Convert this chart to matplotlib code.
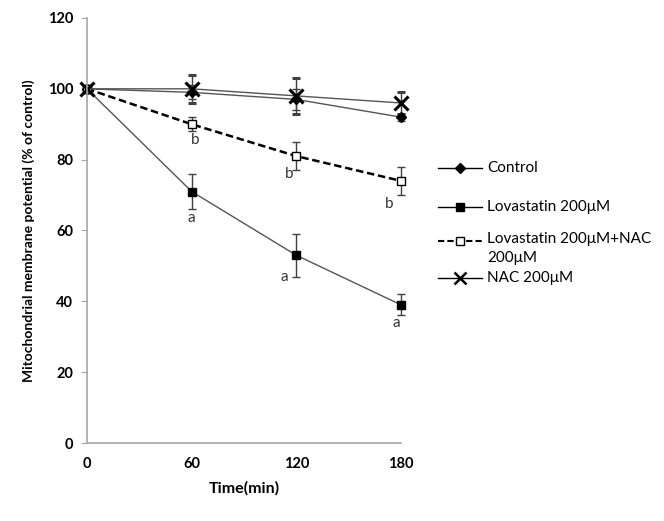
import matplotlib
matplotlib.use("Agg")
import matplotlib.pyplot as plt
from matplotlib.lines import Line2D

plt.rcParams['font.family'] = ['Lato', 'DejaVu Sans']

time = [0, 60, 120, 180]
control = [100, 99, 97, 92]
control_err = [0, 2, 3, 1]
lova = [100, 71, 53, 39]
lova_err = [0, 5, 6, 3]
lova_nac = [100, 90, 81, 74]
lova_nac_err = [0, 2, 4, 4]
nac = [100, 100, 98, 96]
nac_err = [0, 4, 5, 3]

lova_letters = ['a', 'a', 'a']
lova_letter_x = [60, 113, 177]
lova_letter_y = [63.5, 47, 34]
nac_letters = ['b', 'b', 'b']
nac_letter_x = [62, 116, 173]
nac_letter_y = [85.5, 76, 67.5]

legend_labels = ['Control', 'Lovastatin 200μM', 'Lovastatin 200μM+NAC\n200μM', 'NAC 200μM']

fig = plt.figure(figsize=(6.64, 5.21), dpi=100)
ax = fig.add_axes([0.131, 0.1497, 0.473, 0.8158])

lc = '#555555'
ek = dict(ecolor='#404040', elinewidth=1.0, capsize=3, capthick=1.0)
styles = [
    dict(color=lc, lw=1.0, marker='D', ms=5, mfc='black', mec='black'),
    dict(color=lc, lw=1.0, marker='s', ms=6, mfc='black', mec='black'),
    dict(color='black', lw=1.8, ls=(0, (3, 1.5)), marker='s', ms=6, mfc='white', mec='black', mew=1.0),
    dict(color=lc, lw=1.0, marker='x', ms=10, mec='black', mew=2.2),
]
series = [(control, control_err), (lova, lova_err), (lova_nac, lova_nac_err), (nac, nac_err)]
for (vals, errs), st in zip(series, styles):
    cont = ax.errorbar(time, vals, yerr=errs, **st, **ek)
    for art in cont.lines[0:1] + tuple(cont.lines[1]) + tuple(cont.lines[2]):
        art.set_clip_on(False)

for t, x, y in zip(lova_letters, lova_letter_x, lova_letter_y):
    ax.text(x, y, t, ha='center', va='center', fontsize=11, color='#333333')
for t, x, y in zip(nac_letters, nac_letter_x, nac_letter_y):
    ax.text(x, y, t, ha='center', va='center', fontsize=11, color='#333333')

ax.set_xlim(0, 180)
ax.set_ylim(0, 120)
ax.set_xticks([0, 60, 120, 180])
ax.set_yticks(range(0, 121, 20))
for s in ['top', 'right']:
    ax.spines[s].set_visible(False)
for s in ['left', 'bottom']:
    ax.spines[s].set_color('#a6a6a6')
    ax.spines[s].set_linewidth(1.2)
ax.tick_params(axis='y', length=4, color='#a6a6a6', labelsize=10.5, pad=6)
ax.tick_params(axis='x', length=0, labelsize=10.5, pad=10)
for lab in ax.get_xticklabels() + ax.get_yticklabels():
    lab.set_fontweight('bold')
ax.set_xlabel('Time(min)', fontsize=11.5, fontweight='bold', labelpad=7)
ax.set_ylabel('Mitochondrial membrane potential (% of control)', fontsize=10,
              fontweight='bold', labelpad=9)

# manual legend (figure pixel positions -> fractions)
W, H = 664.0, 521.0
leg_rows = [168, 207, 241, 278]
leg_styles = [
    dict(color='black', lw=1.0, marker='D', ms=5, mfc='black', mec='black'),
    dict(color='black', lw=1.0, marker='s', ms=6, mfc='black', mec='black'),
    dict(color='black', lw=1.5, ls=(0, (3, 1.5)), marker='s', ms=6, mfc='white', mec='black'),
    dict(color='black', lw=1.0, marker='x', ms=8, mec='black', mew=1.8),
]
for yp, st, lab in zip(leg_rows, leg_styles, legend_labels):
    yf = 1 - yp / H
    fig.add_artist(Line2D([438 / W, 482 / W], [yf, yf], transform=fig.transFigure, **st,
                          markevery=[]))
    fig.add_artist(Line2D([460 / W], [yf], transform=fig.transFigure, **st))
    if '\n' in lab:
        fig.text(487 / W, yf + 9 / H, lab, ha='left', va='top', fontsize=11,
                 linespacing=1.45, transform=fig.transFigure)
    else:
        fig.text(487 / W, yf, lab, ha='left', va='center', fontsize=11,
                 transform=fig.transFigure)

fig.savefig('out.png', dpi=100)
